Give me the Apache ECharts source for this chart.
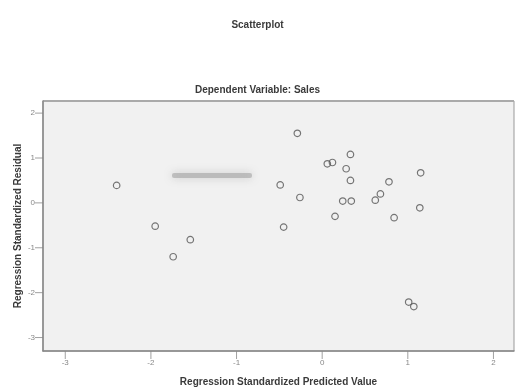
<!DOCTYPE html>
<html>
<head>
<meta charset="utf-8">
<script src="https://cdn.jsdelivr.net/npm/echarts@6/dist/echarts.min.js"></script>
<style>
    html, body {margin: 0; padding: 0; background: #fff;}
    #chart {width: 515px; height: 392px;}
</style>
</head>
<body>
<div id="chart"></div>
<script>
    // standardized predicted value (x) and standardized residual (y)
    const predicted = [-2.40, -1.95, -1.54, -1.74, -0.29, -0.49, -0.26, -0.45, 0.06, 0.12,
        0.33, 0.28, 0.33, 0.24, 0.34, 0.15, 0.62, 0.68, 0.78, 0.84, 1.15, 1.14, 1.01, 1.07];
    const residual = [0.39, -0.52, -0.82, -1.2, 1.55, 0.4, 0.12, -0.54, 0.87, 0.9,
        1.08, 0.76, 0.5, 0.04, 0.04, -0.3, 0.06, 0.2, 0.47, -0.33, 0.67, -0.11, -2.21, -2.31];
    const xTicks = [-3, -2, -1, 0, 1, 2];
    const yTicks = [-3, -2, -1, 0, 1, 2];

    const points = predicted.map((v, i) => [v, residual[i]]);

    const chart = echarts.init(document.getElementById("chart"));

    chart.setOption({
        animation: false,
        textStyle: {fontFamily: "Liberation Sans, Arial, sans-serif"},
        title: [
            {
                text: "Scatterplot",
                left: "center",
                top: 15,
                textStyle: {fontSize: 10, fontWeight: "bold", color: "#3a3a3a"}
            },
            {
                text: "Dependent Variable: Sales",
                left: "center",
                top: 80,
                textStyle: {fontSize: 10, fontWeight: "bold", color: "#3a3a3a"}
            }
        ],
        grid: {left: 43, top: 101, right: 1, bottom: 40, show: true, backgroundColor: "#f1f1f1", borderColor: "#999", borderWidth: 1},
        xAxis: {
            type: "value",
            min: -3.26,
            max: 2.24,
            name: "Regression Standardized Predicted Value",
            nameLocation: "middle",
            nameGap: 26,
            nameMoveOverlap: false,
            nameTextStyle: {fontSize: 10, fontWeight: "bold", color: "#3a3a3a"},
            axisLine: {onZero: false, lineStyle: {color: "#888", width: 1.5}},
            axisTick: {show: false},
            splitLine: {show: false},
            axisLabel: {
                customValues: xTicks,
                fontSize: 8,
                color: "#888",
                margin: 8
            }
        },
        yAxis: {
            type: "value",
            min: -3.3,
            max: 2.27,
            name: "Regression Standardized Residual",
            nameLocation: "middle",
            nameGap: 20,
            nameMoveOverlap: false,
            nameTextStyle: {fontSize: 10, fontWeight: "bold", color: "#3a3a3a"},
            axisLine: {onZero: false, lineStyle: {color: "#888", width: 1.5}},
            axisTick: {show: false},
            splitLine: {show: false},
            axisLabel: {
                customValues: yTicks,
                fontSize: 8,
                color: "#888",
                margin: 8
            }
        },
        graphic: [
            {
                // top frame line looks doubled in the original
                type: "rect",
                shape: {x: 43, y: 100, width: 471, height: 2},
                style: {fill: "#aaa"}
            },
            {
                type: "rect",
                shape: {x: 172, y: 173, width: 80, height: 5, r: 2},
                style: {fill: "rgba(150,150,150,0.5)", shadowBlur: 8, shadowColor: "rgba(130,130,130,0.7)"}
            }
        ],
        series: [
            {
                type: "scatter",
                data: points,
                symbol: "circle",
                symbolSize: 6.5,
                itemStyle: {color: "rgba(0,0,0,0)", borderColor: "#555", borderWidth: 1.2}
            },
            {
                // tick marks outside the frame
                type: "scatter",
                silent: true,
                data: xTicks.map(v => [v, -3.3]),
                symbol: "rect",
                symbolSize: [1, 8],
                symbolOffset: [0, 4],
                itemStyle: {color: "#888"}
            },
            {
                type: "scatter",
                silent: true,
                data: yTicks.map(v => [-3.26, v]),
                symbol: "rect",
                symbolSize: [8, 1],
                symbolOffset: [-4, 0],
                itemStyle: {color: "#888"}
            }
        ]
    });
</script>
</body>
</html>
